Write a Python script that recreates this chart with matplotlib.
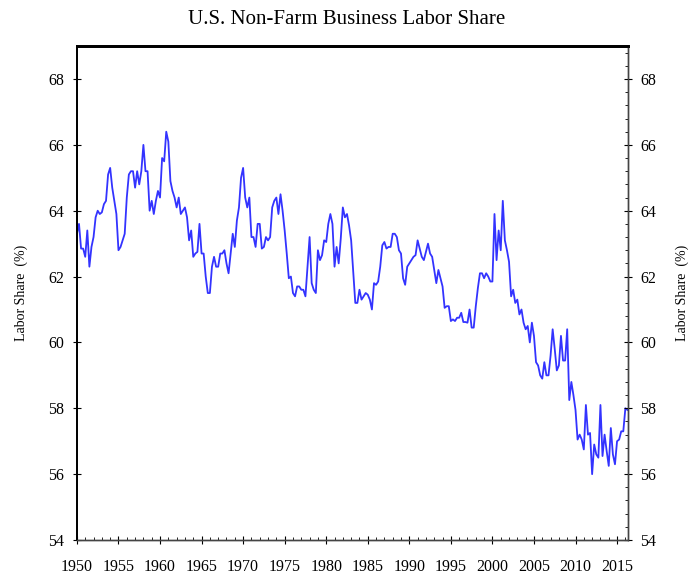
import matplotlib
matplotlib.use('Agg')
import matplotlib.pyplot as plt
from matplotlib.ticker import MultipleLocator
import numpy as np

plt.rcParams.update({
    'font.family': ['Liberation Serif', 'DejaVu Serif'],
    'font.size': 11,
})

# quarterly labor share (%), 1950Q1 onwards
share_1950s = [63.3, 63.6, 62.85, 62.85, 62.6, 63.4, 62.3, 62.9, 63.2, 63.8, 64.0, 63.9,
               63.95, 64.2, 64.3, 65.1, 65.3, 64.7, 64.3, 63.9, 62.8, 62.9, 63.1, 63.3,
               64.4, 65.1, 65.2, 65.2, 64.7, 65.2, 64.8, 65.2, 66.0, 65.2, 65.2, 64.0,
               64.3, 63.9, 64.3, 64.6]
share_1960s = [64.4, 65.6, 65.5, 66.4, 66.1, 64.9, 64.6, 64.4, 64.1, 64.4, 63.9, 64.0,
               64.1, 63.8, 63.1, 63.4, 62.6, 62.7, 62.75, 63.6, 62.7, 62.7, 62.0, 61.5,
               61.5, 62.3, 62.6, 62.3, 62.3, 62.7, 62.7, 62.8, 62.4, 62.1, 62.7, 63.3,
               62.9, 63.7, 64.1, 65.0]
share_1970s = [65.3, 64.4, 64.1, 64.4, 63.2, 63.2, 62.9, 63.6, 63.6, 62.85, 62.9, 63.2,
               63.1, 63.2, 64.1, 64.3, 64.4, 63.9, 64.5, 64.0, 63.4, 62.7, 61.95, 62.0,
               61.5, 61.4, 61.7, 61.7, 61.6, 61.6, 61.4, 62.3, 63.2, 61.8, 61.6, 61.5,
               62.8, 62.5, 62.65, 63.1]
share_1980s = [63.05, 63.6, 63.9, 63.6, 62.3, 62.9, 62.4, 63.15, 64.1, 63.8, 63.9, 63.55,
               63.1, 62.15, 61.2, 61.2, 61.6, 61.3, 61.4, 61.5, 61.45, 61.3, 61.0, 61.8,
               61.75, 61.85, 62.3, 62.95, 63.05, 62.85, 62.9, 62.9, 63.3, 63.3, 63.2, 62.8,
               62.7, 61.95, 61.75, 62.3]
share_1990s = [62.4, 62.5, 62.6, 62.65, 63.1, 62.85, 62.6, 62.5, 62.75, 63.0, 62.7, 62.6,
               62.2, 61.8, 62.2, 61.95, 61.7, 61.05, 61.1, 61.1, 60.65, 60.7, 60.65, 60.75,
               60.75, 60.9, 60.62, 60.62, 60.6, 61.0, 60.45, 60.45, 61.1, 61.65, 62.1, 62.1,
               61.95, 62.1, 62.0, 61.85]
share_2000s = [61.85, 63.9, 62.5, 63.4, 62.8, 64.3, 63.1, 62.8, 62.45, 61.4, 61.6, 61.2,
               61.3, 60.85, 61.0, 60.6, 60.4, 60.5, 60.0, 60.6, 60.2, 59.4, 59.3, 59.0,
               58.9, 59.4, 59.0, 59.0, 59.6, 60.4, 59.8, 59.15, 59.3, 60.2, 59.45, 59.45,
               60.4, 58.25, 58.8, 58.4]
share_2010s = [57.95, 57.05, 57.2, 57.05, 56.75, 58.1, 57.2, 57.25, 56.0, 56.9, 56.6, 56.5,
               58.1, 56.55, 57.2, 56.7, 56.25, 57.4, 56.6, 56.3, 57.0, 57.05, 57.3, 57.3,
               58.0, 57.95]

share = np.array(share_1950s + share_1960s + share_1970s + share_1980s
                 + share_1990s + share_2000s + share_2010s)
t = 1950 + np.arange(len(share)) / 4.0

year_ticks = np.arange(1950, 2016, 5)
share_ticks = np.arange(54, 69, 2)

fig = plt.figure(figsize=(6.93, 5.76), dpi=100)
ax = fig.add_axes([0.111, 0.0625, 0.795, 0.8575])
ax.plot(t, share, color='#3333ff', linewidth=1.3)

ax.set_xlim(1950, 2016.3)
ax.set_ylim(54, 69)
ax.set_xticks(year_ticks)
ax.xaxis.set_minor_locator(MultipleLocator(1))
ax.set_yticks(share_ticks)
ax.tick_params(axis='x', which='major', direction='inout', length=6, width=0.8,
               pad=11, labelsize=11.5)
ax.tick_params(axis='x', which='minor', direction='in', length=2.5, width=0.6)
ax.tick_params(axis='y', which='major', direction='inout', length=6, width=0.8,
               pad=6, labelsize=11.5)
ax.set_ylabel('Labor Share  (%)', fontsize=10, labelpad=15)

ax2 = ax.twinx()
ax2.set_ylim(54, 69)
ax2.set_yticks(share_ticks)
ax2.yaxis.set_minor_locator(MultipleLocator(0.4))
ax2.tick_params(axis='y', which='major', direction='inout', length=6, width=0.8,
                pad=6, labelsize=11.5)
ax2.tick_params(axis='y', which='minor', direction='in', length=2.5, width=0.6)
ax2.set_ylabel('Labor Share  (%)', fontsize=10, labelpad=14)

for a in (ax, ax2):
    a.spines['top'].set_linewidth(2.0)
    a.spines['left'].set_linewidth(1.3)
    a.spines['right'].set_linewidth(1.0)
    a.spines['right'].set_color('#444444')
    a.spines['bottom'].set_linewidth(1.0)
    a.spines['bottom'].set_color('#444444')

fig.suptitle('U.S. Non-Farm Business Labor Share', fontsize=15, y=0.983)

fig.savefig('out.png', dpi=100, facecolor='white')
